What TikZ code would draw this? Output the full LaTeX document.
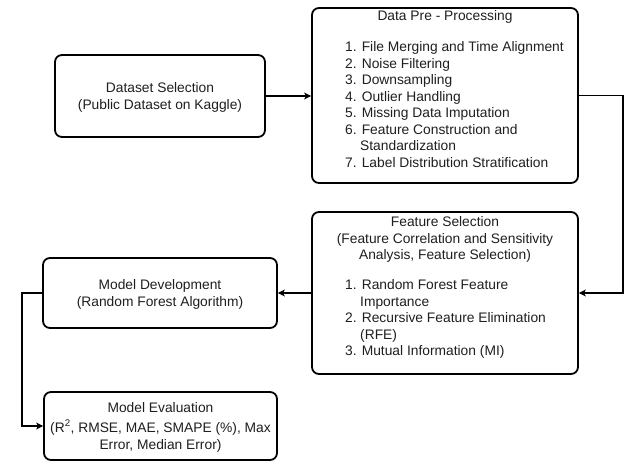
\documentclass[tikz,border=0pt]{standalone}
\usepackage{fontspec}
\setmainfont{Liberation Sans}
\usetikzlibrary{arrows.meta}
\begin{document}
\begin{tikzpicture}[x=1pt,y=-1pt,
  box/.style={draw=black, line width=1.8pt, rounded corners=7pt, fill=white, inner sep=0pt},
  ctxt/.style={inner sep=0pt, anchor=base, font=\fontsize{13.8}{16.5}\selectfont, text=black!88},
  ltxt/.style={inner sep=0pt, anchor=base west, font=\fontsize{13.8}{16.5}\selectfont, text=black!88},
  conn/.style={draw=black, line width=1.1pt},
  arr/.style={conn, -{Stealth[length=7pt,width=7pt,inset=2pt]}}]
\useasboundingbox[fill=white] (0,0) rectangle (625,461);

% boxes
\node[box, minimum width=210pt, minimum height=82pt] (ds) at (160,96) {};
\node[box, minimum width=266pt, minimum height=175pt] (pre) at (445,95.5) {};
\node[box, minimum width=266pt, minimum height=162pt] (fs) at (445,293) {};
\node[box, minimum width=234pt, minimum height=70pt] (md) at (160,293) {};
\node[box, minimum width=233pt, minimum height=68pt] (me) at (160.5,426) {};

% Dataset Selection
\node[ctxt] (ds1) at (160,92.5) {Dataset Selection};
\node[ctxt] (ds2) at (160,109) {(Public Dataset on Kaggle)};

% Data Pre-Processing
\node[ctxt] (pt) at (445,20.5) {Data Pre - Processing};
\node[ltxt] (p1) at (345,51.5) {1. File Merging and Time Alignment};
\node[ltxt] (p2) at (345,68) {2. Noise Filtering};
\node[ltxt] (p3) at (345,84.5) {3. Downsampling};
\node[ltxt] (p4) at (345,101) {4. Outlier Handling};
\node[ltxt] (p5) at (345,117.5) {5. Missing Data Imputation};
\node[ltxt] (p6) at (345,134) {6. Feature Construction and};
\node[ltxt] (p6b) at (360,150.5) {Standardization};
\node[ltxt] (p7) at (345,167) {7. Label Distribution Stratification};

% Feature Selection
\node[ctxt] (ft1) at (445,226.5) {Feature Selection};
\node[ctxt] (ft2) at (445,243) {(Feature Correlation and Sensitivity};
\node[ctxt] (ft3) at (445,259.5) {Analysis, Feature Selection)};
\node[ltxt] (f1) at (345,289.5) {1. Random Forest Feature};
\node[ltxt] (f1b) at (360,306) {Importance};
\node[ltxt] (f2) at (345,322.5) {2. Recursive Feature Elimination};
\node[ltxt] (f2b) at (360,339) {(RFE)};
\node[ltxt] (f3) at (345,355.5) {3. Mutual Information (MI)};

% Model Development
\node[ctxt] (md1) at (160,289.5) {Model Development};
\node[ctxt] (md2) at (160,306) {(Random Forest Algorithm)};

% Model Evaluation
\node[ctxt] (me1) at (160.5,412.5) {Model Evaluation};
\node[ctxt] (me2) at (160.5,432) {(R\textsuperscript{2}, RMSE, MAE, SMAPE (\%), Max};
\node[ctxt] (me3) at (160.5,449) {Error, Median Error)};

% connectors
\coordinate (c1) at (623,95.5);
\coordinate (c2) at (22,293);
\draw[arr] (ds.east) -- (ds.east -| pre.west);
\draw[arr] (pre.east) -- (c1) |- (fs.east);
\draw[arr] (fs.west) -- (md.east);
\draw[arr] (md.west) -- (c2) |- (me.west);
\end{tikzpicture}
\end{document}
